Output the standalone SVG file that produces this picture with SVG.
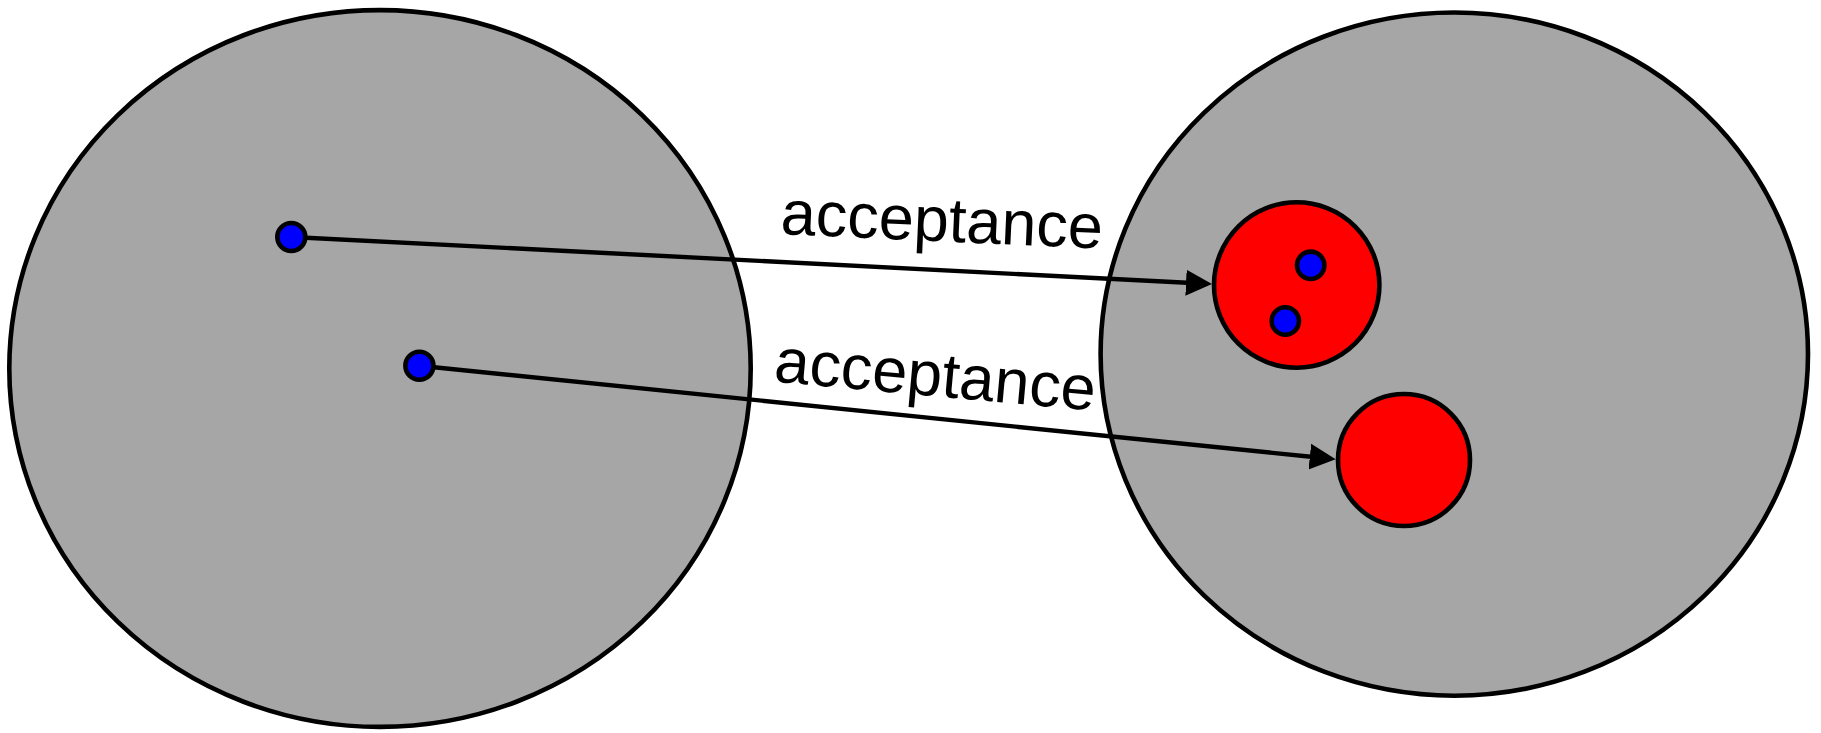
<svg xmlns="http://www.w3.org/2000/svg" width="1821" height="733" viewBox="0 0 1821 733">
  <style>
    .region { fill: #a6a6a6; stroke: #000; stroke-width: 4.6; }
    .set { fill: #ff0000; stroke: #000; stroke-width: 4.6; }
    .dot { fill: #0000ff; stroke: #000; stroke-width: 4.6; }
    .edge { fill: none; stroke: #000; stroke-width: 4.4; }
    .lbl { font-family: "Liberation Sans", Arial, sans-serif; font-size: 63px; fill: #000; }
  </style>
  <defs>
    <marker id="arrow" markerUnits="userSpaceOnUse" markerWidth="28" markerHeight="28" refX="6" refY="13" orient="auto" viewBox="0 0 28 26">
      <path d="M0,0 L26,13 L0,26 z" fill="#000"/>
    </marker>
  </defs>

  <g id="left-region">
    <ellipse class="region" cx="380" cy="368.5" rx="370.7" ry="358.4"/>
  </g>
  <g id="right-region">
    <ellipse class="region" cx="1454.3" cy="354.1" rx="353.7" ry="341.6"/>
  </g>

  <g id="connectors">
    <line class="edge" x1="291.3" y1="237" x2="1192" y2="283" marker-end="url(#arrow)"/>
    <line class="edge" x1="419.4" y1="365.7" x2="1315.8" y2="457.3" marker-end="url(#arrow)"/>
    <text class="lbl" transform="translate(780,234) rotate(2.6)">acceptance</text>
    <text class="lbl" transform="translate(773,381.5) rotate(5.2)">acceptance</text>
  </g>

  <g id="set-1">
    <circle class="set" cx="1296.7" cy="285" r="82.7"/>
  </g>
  <g id="set-2">
    <circle class="set" cx="1404" cy="460" r="66"/>
  </g>
  <g id="element-a">
    <circle class="dot" cx="291.3" cy="237" r="14"/>
  </g>
  <g id="element-b">
    <circle class="dot" cx="419.4" cy="365.7" r="14"/>
  </g>
  <g id="element-c">
    <circle class="dot" cx="1310.7" cy="265.3" r="13.7"/>
  </g>
  <g id="element-d">
    <circle class="dot" cx="1285.3" cy="321" r="13.7"/>
  </g>
</svg>
